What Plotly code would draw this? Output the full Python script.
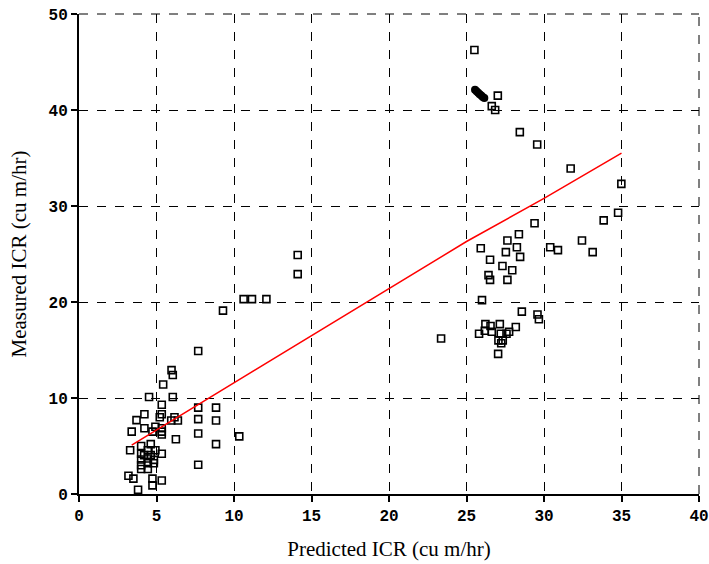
import plotly.graph_objects as go

# Open-square observations (predicted, measured)
pred = [
    31.72, 34.99, 34.78, 33.85, 29.39, 28.38, 27.64, 32.45, 25.92, 28.25,
    30.40, 30.90, 33.14, 27.54, 28.46, 26.52, 27.32, 27.95, 26.42, 26.52,
    27.64, 26.00, 28.57, 29.58, 29.67, 23.36, 26.22, 26.55, 27.15, 28.18,
    25.81, 26.18, 26.63, 27.21, 27.75, 27.58, 27.06, 27.34, 27.24, 27.04,
    25.51, 27.02, 26.63, 26.85, 28.44, 29.56,
    14.11, 14.11, 10.62, 11.16, 12.09, 9.29, 7.69, 7.69, 8.84, 7.69,
    8.84, 7.69, 10.34, 8.84, 7.69,
    5.97, 6.05, 5.43, 4.52, 6.05, 5.34, 4.22, 5.34, 5.21, 6.16,
    3.71, 6.38, 5.95, 4.22, 4.93, 5.34, 3.40, 4.74, 5.34, 5.34,
    6.25, 4.63, 4.01, 3.30, 4.93, 5.34, 4.01, 4.44, 4.20, 4.63,
    4.01, 4.44, 4.83, 4.83, 4.44, 4.01, 4.01, 4.44, 3.19, 3.51,
    4.74, 5.34, 4.74, 3.81,
]
meas = [
    33.9, 32.3, 29.3, 28.5, 28.2, 27.05, 26.4, 26.4, 25.6, 25.7,
    25.7, 25.4, 25.2, 25.2, 24.7, 24.4, 23.75, 23.3, 22.8, 22.3,
    22.3, 20.2, 19.0, 18.7, 18.2, 16.2, 17.7, 17.5, 17.7, 17.4,
    16.7, 17.0, 16.9, 16.7, 16.9, 16.7, 16.0, 16.0, 15.7, 14.6,
    46.25, 41.5, 40.4, 40.0, 37.7, 36.4,
    24.9, 22.9, 20.3, 20.3, 20.3, 19.1, 14.9, 9.0, 9.0, 7.8,
    7.65, 6.3, 6.0, 5.2, 3.05,
    12.9, 12.4, 11.4, 10.1, 10.1, 9.3, 8.3, 8.3, 8.0, 8.0,
    7.7, 7.65, 7.65, 6.85, 7.0, 6.85, 6.5, 6.5, 6.5, 6.2,
    5.7, 5.2, 5.0, 4.55, 4.55, 4.2, 4.2, 4.55, 4.05, 4.05,
    3.6, 3.7, 3.55, 3.2, 3.2, 3.0, 2.6, 2.6, 1.9, 1.6,
    1.6, 1.4, 0.9, 0.45,
]

# Dense overlapping cluster (drawn solid)
blob_x = [25.55, 25.65, 25.75, 25.85, 25.95, 26.05, 26.15]
blob_y = [42.1, 41.95, 41.8, 41.65, 41.5, 41.35, 41.25]

# Fitted line
fit_x = [3.4, 10.0, 25.0, 30.0, 35.0]
fit_y = [5.1, 11.6, 26.3, 30.8, 35.5]

x_ticks = [0, 5, 10, 15, 20, 25, 30, 35, 40]
y_ticks = [0, 10, 20, 30, 40, 50]

fig = go.Figure()
fig.add_trace(go.Scatter(
    x=pred, y=meas, mode="markers",
    marker=dict(symbol="square-open", size=7, color="black", line=dict(width=1.6, color="black")),
    showlegend=False,
))
fig.add_trace(go.Scatter(
    x=blob_x, y=blob_y, mode="markers",
    marker=dict(symbol="circle", size=8, color="black", line=dict(width=0)),
    showlegend=False,
))
fig.add_trace(go.Scatter(
    x=fit_x, y=fit_y, mode="lines",
    line=dict(color="red", width=1.5),
    showlegend=False,
))

tickfont = dict(family="Liberation Mono", size=16, color="black", weight="bold")
titlefont = dict(family="Liberation Serif", size=21, color="black")
fig.update_layout(
    width=709, height=564,
    margin=dict(l=79, r=10, t=14, b=70),
    plot_bgcolor="white", paper_bgcolor="white",
    xaxis=dict(
        range=[0, 40], tickvals=x_ticks, ticktext=[str(v) for v in x_ticks],
        showline=True, linecolor="black", linewidth=2,
        ticks="outside", ticklen=6, tickwidth=1.5, tickcolor="black",
        showgrid=True, gridcolor="black", gridwidth=1, griddash="dash",
        zeroline=False, tickfont=tickfont, automargin=False,
        ticklabeloverflow="allow",
        title=dict(text="Predicted ICR (cu m/hr)", font=titlefont, standoff=16),
    ),
    yaxis=dict(
        range=[0, 50], tickvals=y_ticks, ticktext=[str(v) for v in y_ticks],
        showline=True, linecolor="black", linewidth=2,
        ticks="outside", ticklen=6, tickwidth=1.5, tickcolor="black",
        showgrid=True, gridcolor="black", gridwidth=1, griddash="dash",
        zeroline=False, tickfont=tickfont, automargin=False,
        ticklabeloverflow="allow",
        title=dict(text="Measured ICR (cu m/hr)", font=titlefont, standoff=16),
    ),
    shapes=[
        dict(type="line", xref="paper", yref="paper", x0=0, x1=1, y0=1, y1=1,
             line=dict(color="black", width=1, dash="dash")),
        dict(type="line", xref="paper", yref="paper", x0=1, x1=1, y0=0, y1=1,
             line=dict(color="black", width=1, dash="dash")),
    ],
)

fig.write_html(
    "out.html",
    config={"displayModeBar": False},
    post_script="document.body.style.margin='0px';document.body.style.overflow='hidden';",
)
